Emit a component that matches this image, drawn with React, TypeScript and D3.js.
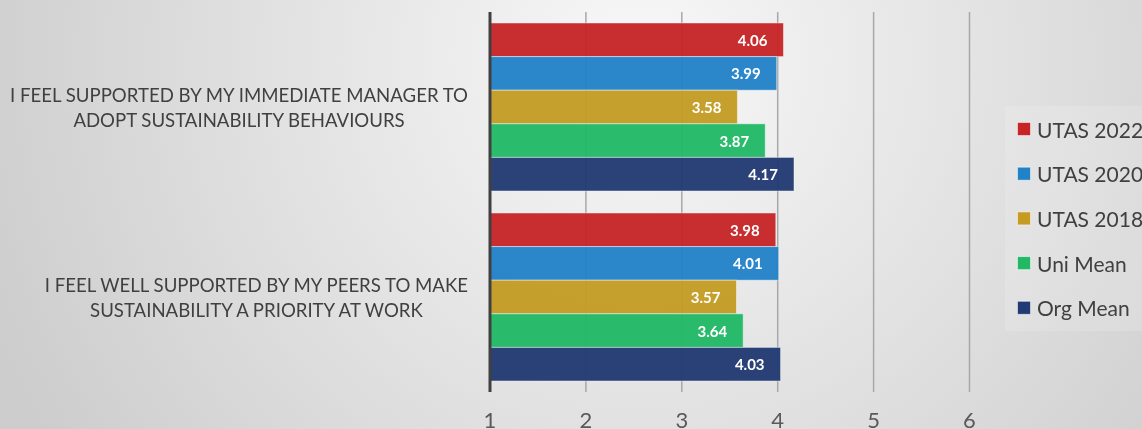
import React, { useEffect, useRef } from 'react';
import * as d3 from 'd3';

const categoryLines: string[][] = [
  ['I FEEL SUPPORTED BY MY IMMEDIATE MANAGER TO', 'ADOPT SUSTAINABILITY BEHAVIOURS'],
  ['I FEEL WELL SUPPORTED BY MY PEERS TO MAKE', 'SUSTAINABILITY A PRIORITY AT WORK'],
];
const seriesNames = ['UTAS 2022', 'UTAS 2020', 'UTAS 2018', 'Uni Mean', 'Org Mean'];
const seriesColors = ['#C62427', '#2282C8', '#C49C24', '#22B866', '#213A73'];
const utas2022 = [4.06, 3.98];
const utas2020 = [3.99, 4.01];
const utas2018 = [3.58, 3.57];
const uniMean = [3.87, 3.64];
const orgMean = [4.17, 4.03];
const seriesValues = [utas2022, utas2020, utas2018, uniMean, orgMean];
const xTicks = [1, 2, 3, 4, 5, 6];

const W = 1142;
const H = 429;
const FONT = 'Lato, "Open Sans", sans-serif';

export default function App() {
  const ref = useRef<SVGSVGElement | null>(null);

  useEffect(() => {
    const svg = d3.select(ref.current);
    svg.selectAll('*').remove();

    const defs = svg.append('defs');
    const grad = defs
      .append('radialGradient')
      .attr('id', 'bg')
      .attr('gradientUnits', 'userSpaceOnUse')
      .attr('cx', 640)
      .attr('cy', 60)
      .attr('r', 700);
    grad.append('stop').attr('offset', '0%').attr('stop-color', '#f8f8f8');
    grad.append('stop').attr('offset', '100%').attr('stop-color', '#cdcdcd');
    svg.append('rect').attr('width', W).attr('height', H).attr('fill', 'url(#bg)');

    const x = d3.scaleLinear().domain([1, 6]).range([490, 969.5]);
    const y0 = d3
      .scaleBand<number>()
      .domain(categoryLines.map((_, i) => i))
      .range([12, 392]);
    const y1 = d3
      .scaleBand<string>()
      .domain(seriesNames)
      .range([0, y0.bandwidth()])
      .paddingInner(0)
      .paddingOuter(0.327);

    // gridlines
    svg
      .append('g')
      .selectAll('line')
      .data(xTicks.slice(1))
      .join('line')
      .attr('x1', (d) => x(d))
      .attr('x2', (d) => x(d))
      .attr('y1', 12)
      .attr('y2', 392)
      .attr('stroke', '#a8a8a8')
      .attr('stroke-width', 1.5);

    // bars
    const groups = svg
      .append('g')
      .selectAll('g')
      .data(categoryLines.map((_, i) => i))
      .join('g')
      .attr('transform', (ci) => `translate(0,${y0(ci)})`);

    groups.each(function (ci) {
      const g = d3.select(this);
      const rows = seriesNames.map((name, si) => ({ name, si, v: seriesValues[si][ci] }));
      g.selectAll('rect')
        .data(rows)
        .join('rect')
        .attr('x', x(1))
        .attr('y', (d) => y1(d.name)!)
        .attr('width', (d) => x(d.v) - x(1))
        .attr('height', y1.bandwidth())
        .attr('fill', (d) => seriesColors[d.si])
        .attr('fill-opacity', 0.96)
        .attr('stroke', 'rgba(255,255,255,0.45)')
        .attr('stroke-width', 1);
      g.selectAll('text')
        .data(rows)
        .join('text')
        .attr('x', (d) => x(d.v) - 16)
        .attr('y', (d) => y1(d.name)! + y1.bandwidth() / 2)
        .attr('text-anchor', 'end')
        .attr('dominant-baseline', 'central')
        .attr('fill', '#ffffff')
        .attr('font-family', FONT)
        .attr('font-weight', 700)
        .attr('font-size', 15)
        .text((d) => d.v.toFixed(2));
    });

    // axis line
    svg
      .append('line')
      .attr('x1', x(1))
      .attr('x2', x(1))
      .attr('y1', 12)
      .attr('y2', 392)
      .attr('stroke', '#404040')
      .attr('stroke-width', 3);

    // tick labels
    svg
      .append('g')
      .selectAll('text')
      .data(xTicks)
      .join('text')
      .attr('x', (d) => x(d))
      .attr('y', 428)
      .attr('text-anchor', 'middle')
      .attr('fill', '#595959')
      .attr('font-family', FONT)
      .attr('font-size', 22)
      .text((d) => String(d));

    // category labels
    const rightEdge = 468;
    categoryLines.forEach((lines, ci) => {
      const cy = y0(ci)! + y0.bandwidth() / 2;
      const g = svg.append('g');
      const texts = g
        .selectAll('text')
        .data(lines)
        .join('text')
        .attr('y', (_, li) => cy + (li - (lines.length - 1) / 2) * 25)
        .attr('text-anchor', 'middle')
        .attr('dominant-baseline', 'central')
        .attr('fill', '#404040')
        .attr('font-family', FONT)
        .attr('font-size', 18.6)
        .text((d) => d);
      let maxW = 0;
      texts.each(function () {
        maxW = Math.max(maxW, (this as SVGTextElement).getComputedTextLength());
      });
      texts.attr('x', rightEdge - maxW / 2);
    });

    // legend
    const legend = svg.append('g');
    legend
      .append('rect')
      .attr('x', 1005)
      .attr('y', 106)
      .attr('width', 150)
      .attr('height', 225)
      .attr('fill', '#ffffff')
      .attr('fill-opacity', 0.15);
    const items = legend
      .selectAll('g.item')
      .data(seriesNames)
      .join('g')
      .attr('class', 'item')
      .attr('transform', (_, i) => `translate(1017.5,${129 + i * 44.7})`);
    items
      .append('rect')
      .attr('x', 0)
      .attr('y', -6.5)
      .attr('width', 13)
      .attr('height', 13)
      .attr('fill', (_, i) => seriesColors[i])
      .attr('stroke', 'rgba(255,255,255,0.5)')
      .attr('stroke-width', 1);
    items
      .append('text')
      .attr('x', 19.5)
      .attr('y', 0)
      .attr('dominant-baseline', 'central')
      .attr('fill', '#404040')
      .attr('font-family', FONT)
      .attr('font-size', 21)
      .text((d) => d);
  }, []);

  return (
    <svg
      ref={ref}
      width={W}
      height={H}
      style={{ position: 'fixed', left: 0, top: 0, display: 'block' }}
    />
  );
}
